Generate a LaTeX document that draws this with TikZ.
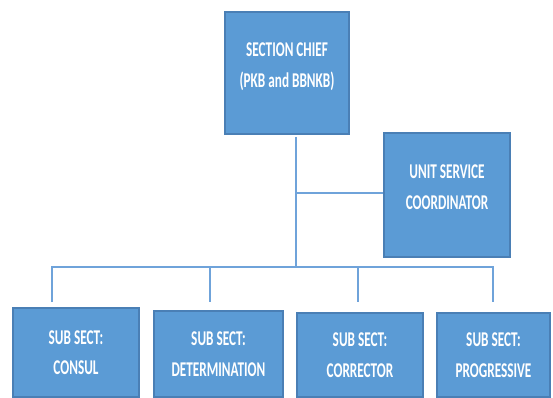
\documentclass[tikz,border=0pt]{standalone}
\usepackage{fontspec}
\setmainfont{Carlito}[FakeStretch=0.63]
\definecolor{boxfill}{HTML}{5B9BD5}
\definecolor{boxedge}{HTML}{4A7FB5}
\definecolor{wire}{HTML}{6FA3DA}
\begin{document}
\begin{tikzpicture}[x=1pt,y=-1pt,
  box/.style={draw=boxedge, line width=1.2pt, fill=boxfill, inner sep=0pt},
  txt/.style={text=white, align=center, font=\fontsize{21}{30.5}\selectfont\bfseries},
  wireline/.style={draw=wire, line width=2pt}]
\useasboundingbox (0,0) rectangle (553,398);
% boxes
\node[box, minimum width=124, minimum height=122,
  label={[txt,yshift=6.5pt]center:{SECTION CHIEF\\(PKB and BBNKB)}}] (chief) at (287,73) {};
\node[box, minimum width=126, minimum height=124,
  label={[txt,yshift=8pt]center:{UNIT SERVICE\\COORDINATOR}}] (usc) at (447,195) {};
\node[box, minimum width=126, minimum height=89,
  label={[txt,yshift=0pt]center:{SUB SECT:\\CONSUL}}] (s1) at (76,352.5) {};
\node[box, minimum width=129, minimum height=86,
  label={[txt,yshift=0pt]center:{SUB SECT:\\DETERMINATION}}] (s2) at (218.5,354) {};
\node[box, minimum width=126, minimum height=84,
  label={[txt,yshift=0pt]center:{SUB SECT:\\CORRECTOR}}] (s3) at (360,355) {};
\node[box, minimum width=113, minimum height=84,
  label={[txt,yshift=0pt]center:{SUB SECT:\\PROGRESSIVE}}] (s4) at (493.5,355) {};
% connector points
\coordinate (ttop) at (296,137);
\coordinate (tmid) at (296,193);
\coordinate (tbot) at (296,267);
\coordinate (b1) at (52,267);  \coordinate (d1) at (52,302);
\coordinate (b2) at (210,267); \coordinate (d2) at (210,302);
\coordinate (b3) at (358,267); \coordinate (d3) at (358,302);
\coordinate (b4) at (493,267); \coordinate (d4) at (493,302);
% connectors
\draw[wireline] (ttop) -- (tbot);
\draw[wireline] (tmid) -- (usc.west |- tmid);
\draw[wireline] (d1) -- (b1) -- (b4) -- (d4);
\draw[wireline] (b2) -- (d2);
\draw[wireline] (b3) -- (d3);
\end{tikzpicture}
\end{document}
